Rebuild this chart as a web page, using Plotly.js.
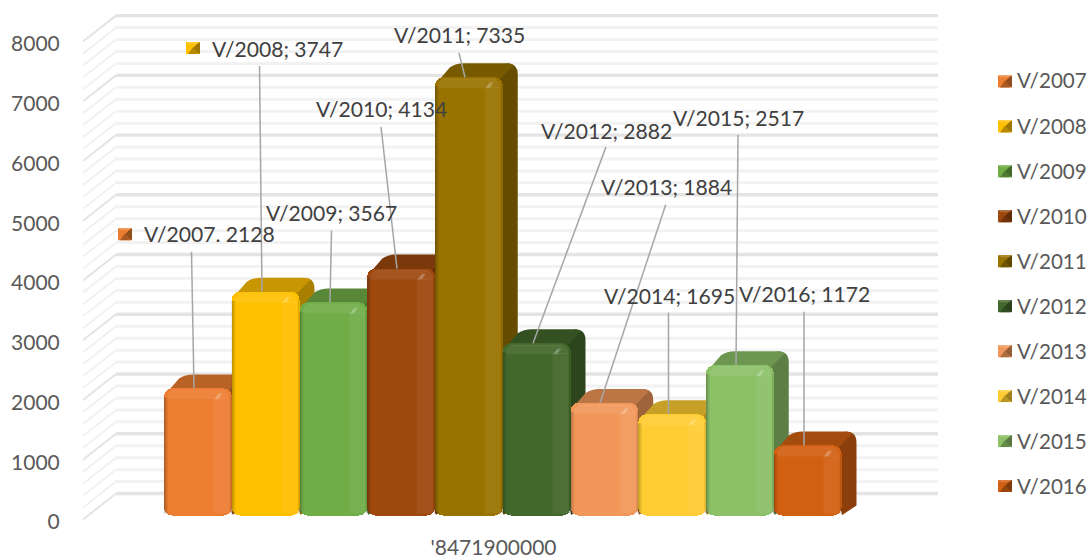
<!DOCTYPE html>
<html><head><meta charset="utf-8">
<script src="https://cdn.plot.ly/plotly-3.0.1.min.js"></script>
<style>html,body{margin:0;padding:0;background:#fff}#c{width:1091px;height:560px}</style></head>
<body><div id="c"></div>
<script>
// ---- data ----
const categoryLabel = "'8471900000";
const seriesNames = ["V/2007","V/2008","V/2009","V/2010","V/2011","V/2012","V/2013","V/2014","V/2015","V/2016"];
const seriesValues = [2128,3747,3567,4134,7335,2882,1884,1695,2517,1172];
const labelTexts = ["V/2007. 2128","V/2008; 3747","V/2009; 3567","V/2010; 4134","V/2011; 7335","V/2012; 2882","V/2013; 1884","V/2014; 1695","V/2015; 2517","V/2016; 1172"];
const yTicks = [0,1000,2000,3000,4000,5000,6000,7000,8000];
// ---- styles ----
const seriesColors = ["#ED7D31","#FFC000","#70AD47","#9E480E","#997300","#43682B","#F1975A","#FFCD33","#8CC168","#D26012"];
const labelX = [143,211,265,315,393,540,600,603,672,738];
const labelY = [234,49,213,109,35,131,187,296,118,294];
const leaderTop = [[191.5,252],[259.5,66],[331.5,231],[381,127],[459,53],[606,147],[665.7,205],[668.5,313],[738,135],[804,312]];
const leaderEndX = [194,262,330,397,465,533,600,668.5,736,804];
const labelKeys = {0:[125,234.5],1:[193,48]};

const L=83,R=945,T=10,B=520,AX=522.5,PXV=0.0598,STEP=67.75,CX=502.75,DX=15,DY=14,BASEPX=4;
const X=p=>(p-CX)/(STEP*10), Y=p=>(AX-p)/PXV;
const PX=p=>(p-L)/(R-L), PY=p=>(AX-p)/(AX-T);
const yTopMax=(AX-T)/PXV;
const P=(cmds,fx,fy)=>cmds.map(c=>c[0]+c.slice(1).map((v,i)=>i%2?fy(v):fx(v)).join(' ')).join(' ');
function shade(hex,f){
  const n=parseInt(hex.slice(1),16);
  const c=[n>>16,(n>>8)&255,n&255].map(v=>Math.max(0,Math.min(255,Math.round(f>1?v+(255-v)*(f-1):v*f))));
  return `rgb(${c.join(',')})`;
}
const below=[],above=[];
const poly=(arr,cmds,fill)=>arr.push({type:'path',xref:'x',yref:'y',path:P(cmds,X,Y),fillcolor:fill,line:{width:0},layer:arr===below?'below':'above'});
const rect=(arr,x0,y0,x1,y1,fill)=>poly(arr,[['M',x0,y0],['L',x1,y0],['L',x1,y1],['L',x0,y1],['Z']],fill);
const seg=(arr,a,b,c,w)=>arr.push({type:'line',xref:'x',yref:'y',x0:X(a[0]),y0:Y(a[1]),x1:X(b[0]),y1:Y(b[1]),line:{color:c,width:w},layer:arr===below?'below':'above'});
const ppoly=(cmds,fill)=>above.push({type:'path',xref:'paper',yref:'paper',path:P(cmds,PX,PY),fillcolor:fill,line:{width:0},layer:'above'});

// walls
for(let v=0;v<=8000;v+=200){
  const major=v%1000===0, yf=B-v*PXV, yb=yf-26;
  seg(below,[83,yf],[116,yb],major?'#e4e4e4':'#f0f0f0',major?2:1.8);
  seg(below,[116,yb],[938,yb],major?'#e4e4e4':'#f2f2f2',major?3.4:3);
}
// bars' depth faces
seriesValues.forEach((v,i)=>{
  const x0=164+STEP*i, x1=x0+STEP, ty=B-BASEPX-v*PXV, by=B-BASEPX, c=seriesColors[i];
  const side=shade(c,.66), top=shade(c,.78);
  poly(below,[['M',x1-6,ty],['L',x1+DX-11,ty-DY],['Q',x1+DX,ty-DY,x1+DX,ty-DY+11],['L',x1+DX,by-DY+4],['L',x1,by],['Z']],side);
  poly(below,[['M',x0+1,ty+8],['Q',x0+2,ty+3,x0+6,ty+.5],['L',x0+DX,ty-DY+4],['Q',x0+DX+6,ty-DY,x0+DX+14,ty-DY],['L',x1+DX-11,ty-DY],['Q',x1+DX-7,ty-DY,x1+DX-4,ty-DY+2],['L',x1-4,ty+3],['L',x0+4,ty+8],['Z']],top);
});
// bevels on front faces, bottom corners, leaders
seriesValues.forEach((v,i)=>{
  const x0=164+STEP*i, x1=x0+STEP, ty=B-BASEPX-v*PXV, by=B-BASEPX;
  [.26,.17,.10,.05].forEach((a,k)=>rect(above,x0+k,ty+9,x0+k+1,by-2,`rgba(0,0,0,${a})`));
  rect(above,x1-18,ty+10,x1-2,by-2,'rgba(255,255,255,.06)');
  rect(above,x1-1.5,ty+8,x1,by-2,'rgba(0,0,0,.12)');
  poly(above,[['M',x0+3,ty+11],['Q',x0+3,ty+2,x0+11,ty+2],['L',x1-10,ty+2],['Q',x1-2,ty+2,x1-2,ty+11],['Z']],'rgba(255,255,255,.07)');
  poly(above,[['M',x0+7,ty+.8],['L',x1-7,ty+.8],['L',x1-7,ty+3],['L',x0+7,ty+3],['Z']],'rgba(255,255,255,.05)');
  poly(above,[['M',x1-18,ty+11],['L',x1-13,ty+5],['L',x1-9,ty+5],['L',x1-13,ty+11],['Z']],'rgba(255,255,255,.16)');
  poly(above,[['M',x1-16,ty+10],['L',x1-13,ty+6.5],['L',x1-11,ty+6.5],['L',x1-14,ty+10],['Z']],'rgba(255,255,255,.2)');
  // rounded feet
  poly(above,[['M',x0-.2,by+1],['L',x0+4,by+1],['Q',x0,by,x0-.2,by-4],['Z']],'#ffffff');
  poly(above,[['M',x1+.2,by+1],['L',x1-4,by+1],['Q',x1,by,x1+.2,by-4],['Z']],'#ffffff');
  seg(above,leaderTop[i],[leaderEndX[i],ty],'#a6a6a6',1.5);
});
function key(cx,cy,c){
  const x0=cx-7,x1=cx+7,y0=cy-6,y1=cy+6;
  const r=(a,b,d,e,f)=>ppoly([['M',a,b],['L',d,b],['L',d,e],['L',a,e],['Z']],f);
  r(x0,y0,x1,y1,c);
  ppoly([['M',x0,y0],['L',x1,y0],['L',x1-2.5,y0+2],['L',x0+2.5,y0+2],['Z']],shade(c,1.18));
  ppoly([['M',x1,y0],['L',x1,y1],['L',x1-3,y1-1.5],['L',cx,cy],['L',x1-3,y0+2],['Z']],shade(c,.62));
  ppoly([['M',x0+2,y1],['L',cx,cy-1],['L',x1-2,y1],['Z']],shade(c,.72));
}
Object.keys(labelKeys).forEach(i=>key(labelKeys[i][0],labelKeys[i][1],seriesColors[i]));
seriesNames.forEach((n,i)=>key(1005,81.5+45*i,seriesColors[i]));

const traces=seriesNames.map((n,i)=>({
  type:'bar',name:n,x:[0],y:[seriesValues[i]],base:[(AX-(B-BASEPX))/PXV],legendgroup:n,
  marker:{color:seriesColors[i],line:{width:0}},hoverinfo:'name+y'
}));
const annotations=labelTexts.map((t,i)=>({
  xref:'x',yref:'y',x:X(labelX[i]),y:Y(labelY[i]),text:t,showarrow:false,xanchor:'left',yanchor:'middle',
  font:{family:'Lato',size:21.1,color:'#404040'},borderpad:0
}));
const layout={
  width:1091,height:560,paper_bgcolor:'#fff',plot_bgcolor:'rgba(0,0,0,0)',
  margin:{l:L,r:1091-R,t:T,b:560-AX,autoexpand:false},
  barmode:'group',bargap:0,bargroupgap:0,barcornerradius:8,
  font:{family:'Lato',size:20,color:'#595959'},
  xaxis:{type:'linear',range:[X(L),X(R)],showgrid:false,zeroline:false,showline:false,
    tickmode:'array',tickvals:[X(493.5)],ticktext:[categoryLabel],ticks:'outside',ticklen:7,tickcolor:'rgba(0,0,0,0)',
    tickfont:{family:'Lato',size:21,color:'#595959'},fixedrange:true},
  yaxis:{range:[0,yTopMax],showgrid:false,zeroline:false,showline:false,
    tickmode:'array',tickvals:yTicks,ticktext:yTicks.map(String),ticks:'outside',ticklen:18,tickcolor:'rgba(0,0,0,0)',
    tickfont:{family:'Lato',size:21,color:'#595959'},fixedrange:true},
  showlegend:true,
  legend:{xref:'container',yref:'container',x:977/1091,y:1-60.5/560,xanchor:'left',yanchor:'top',
    bgcolor:'rgba(0,0,0,0)',borderwidth:0,tracegroupgap:15.3,traceorder:'grouped',maxheight:520,
    font:{family:'Lato',size:20.6,color:'#595959'}},
  shapes:below.concat(above),annotations
};
Plotly.newPlot('c',traces,layout,{displayModeBar:false,staticPlot:true}).then(gd=>{
  gd.querySelectorAll('.legend .legendpoints').forEach(e=>e.style.display='none');
});
</script></body></html>
